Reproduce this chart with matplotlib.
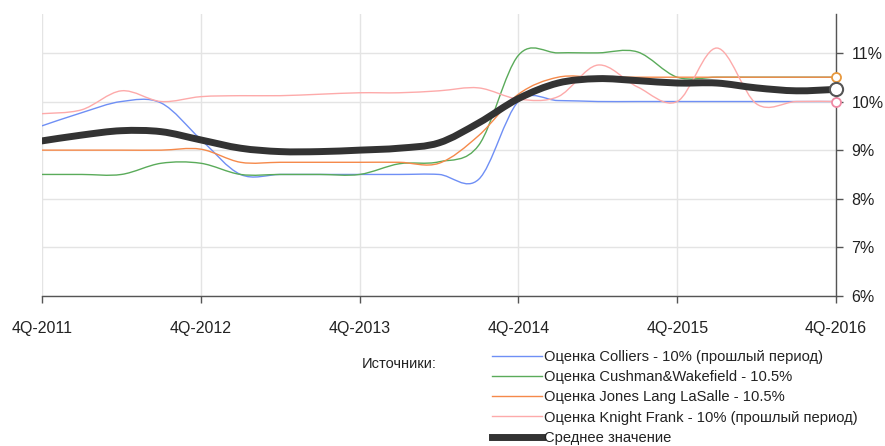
import numpy as np
import matplotlib
matplotlib.use("Agg")
import matplotlib.pyplot as plt
from matplotlib.path import Path
from matplotlib.patches import PathPatch
from matplotlib.lines import Line2D

plt.rcParams['font.family'] = ['Liberation Sans', 'DejaVu Sans']

# quarters 4Q-2011 .. 4Q-2016
quarters = list(range(21))
year_ticks = [0, 4, 8, 12, 16, 20]
year_labels = ['4Q-2011', '4Q-2012', '4Q-2013', '4Q-2014', '4Q-2015', '4Q-2016']

colliers = [9.5, 9.77, 10.0, 9.97, 9.22, 8.5, 8.5, 8.5, 8.5, 8.5, 8.5, 8.4,
            10.0, 10.02, 10.0, 10.0, 10.0, 10.0, 10.0, 10.0, 10.0]
cushman = [8.5, 8.5, 8.5, 8.73, 8.73, 8.5, 8.5, 8.5, 8.5, 8.72, 8.76, 9.1,
           10.95, 11.0, 11.0, 11.02, 10.5, 10.5, 10.5, 10.5, 10.5]
jll = [9.0, 9.0, 9.0, 9.0, 9.02, 8.75, 8.75, 8.75, 8.75, 8.75, 8.73, 9.3,
       10.15, 10.5, 10.5, 10.5, 10.5, 10.5, 10.5, 10.5, 10.5]
knight = [9.75, 9.83, 10.22, 10.0, 10.1, 10.12, 10.12, 10.15, 10.18, 10.18, 10.22, 10.28,
          10.05, 10.1, 10.75, 10.3, 10.0, 11.1, 9.95, 10.0, 10.0]
average = [9.19, 9.31, 9.4, 9.38, 9.21, 9.04, 8.97, 8.97, 9.0, 9.04, 9.15, 9.56,
           10.06, 10.38, 10.47, 10.43, 10.38, 10.38, 10.28, 10.22, 10.25]

series = [
    ('Оценка Colliers - 10% (прошлый период)', colliers, '#6f8ff5', 1.0),
    ('Оценка Cushman&Wakefield - 10.5%', cushman, '#5aab5a', 1.0),
    ('Оценка Jones Lang LaSalle - 10.5%', jll, '#f5894a', 1.0),
    ('Оценка Knight Frank - 10% (прошлый период)', knight, '#fdaaaa', 1.0),
    ('Среднее значение', average, '#333333', 5.0),
]


def smooth_path(x, y):
    # Catmull-Rom curve through the points, written as cubic Bezier segments
    x = np.asarray(x, float)
    y = np.asarray(y, float)
    pts = np.column_stack([x, y])
    verts = [pts[0]]
    codes = [Path.MOVETO]
    n = len(pts)
    for i in range(n - 1):
        p0 = pts[i - 1] if i > 0 else pts[i]
        p1 = pts[i]
        p2 = pts[i + 1]
        p3 = pts[i + 2] if i + 2 < n else pts[i + 1]
        c1 = p1 + (p2 - p0) / 6.0
        c2 = p2 - (p3 - p1) / 6.0
        verts += [c1, c2, p2]
        codes += [Path.CURVE4] * 3
    return Path(verts, codes)


fig = plt.figure(figsize=(8.85, 4.46), dpi=100)
ax = fig.add_axes([42 / 885, 1 - 296 / 446, 794 / 885, 282 / 446])

handles = []
for name, vals, color, lw in series:
    patch = PathPatch(smooth_path(quarters, vals), facecolor='none', edgecolor=color,
                      lw=lw, capstyle='round', joinstyle='round', zorder=3 if lw < 2 else 4)
    ax.add_patch(patch)
    handles.append(Line2D([], [], color=color, lw=lw, label=name))

# end markers for the last quarter
ax.plot(quarters[-1], jll[-1], 'o', ms=6.5, mfc='white', mec='#e8993e', mew=1.3, clip_on=False, zorder=5)
ax.plot(quarters[-1], knight[-1], 'o', ms=6.5, mfc='white', mec='#f08aa5', mew=1.3, clip_on=False, zorder=5)
ax.plot(quarters[-1], average[-1], 'o', ms=9.5, mfc='white', mec='#555555', mew=1.5, clip_on=False, zorder=6)

ax.set_xlim(0, 20)
ax.set_ylim(6, 11.8)

ax.set_xticks(year_ticks)
ax.set_xticklabels(year_labels, fontsize=11.5, color='#222222')
ax.set_yticks([6, 7, 8, 9, 10, 11])
ax.set_yticklabels(['6%', '7%', '8%', '9%', '10%', '11%'], fontsize=11.5, color='#222222')
ax.yaxis.tick_right()
ax.tick_params(axis='x', length=5, width=1, color='#555555', pad=13)
ax.tick_params(axis='y', length=5, width=1, color='#555555', pad=6)

ax.grid(True, color='#e4e4e4', lw=1)
ax.set_axisbelow(True)
for side in ['left', 'top']:
    ax.spines[side].set_visible(False)
for side in ['right', 'bottom']:
    ax.spines[side].set_color('#555555')
    ax.spines[side].set_linewidth(1)

fig.text(362 / 885, 1 - 364 / 446, 'Источники:', fontsize=10.5, color='#222222', va='center')
leg = fig.legend(handles=handles, loc='upper left', bbox_to_anchor=(492 / 885, 1 - 350 / 446),
                 frameon=False, fontsize=10.6, handlelength=3.4, handletextpad=0.15,
                 labelspacing=0.42, borderaxespad=0, borderpad=0)
for t in leg.get_texts():
    t.set_color('#222222')

fig.savefig('out.png', dpi=100)
